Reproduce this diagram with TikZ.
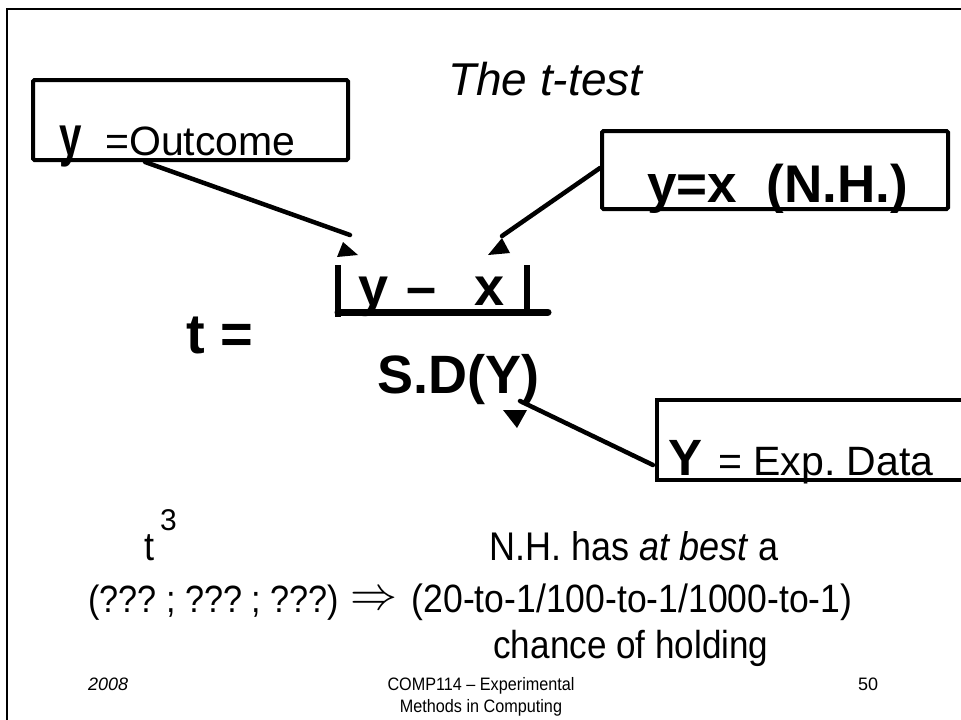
\documentclass[tikz,border=0pt]{standalone}
\usepackage{fontspec}
\setmainfont{Liberation Sans}
\usetikzlibrary{calc}
\newcommand\myfs[1]{\fontsize{#1}{#1}\selectfont}
\tikzset{
  txt/.style={inner sep=0pt, anchor=base west},
  txtc/.style={inner sep=0pt, anchor=base},
  box/.style={draw, line width=4pt, rounded corners=1.5pt, inner sep=0pt},
  conn/.style={line width=4.5pt, line cap=round},
  tri/.style={fill=black},
  frame/.style={line width=2.5pt},
  cond/.style={xscale=0.9}
}
\begin{document}
\frenchspacing
\begin{tikzpicture}[x=1pt,y=-1pt]
\useasboundingbox (0,0) rectangle (961,720);
% slide frame
\draw[frame] (7,720) -- (7,9) -- (961,9);
% title
\node[txt] (title) at (448,95) {\myfs{46}\itshape The t-test};
% outcome box
\node[box, minimum width=315pt, minimum height=80pt] (ob) at (190.5,120) {};
\node[txt, xscale=0.72] (oy) at (59,155) {\myfs{56}\bfseries y};
\node[txt] (ot) at (105,155) {\myfs{41}=Outcome};
% N.H. box
\node[box, minimum width=346pt, minimum height=78pt] (nb) at (775,170) {};
\node[txt] (nt) at (647,202) {\myfs{53}\bfseries y=x\ \ (N.H.)};
% Y box (open on the right)
\coordinate (ybtl) at (657,400);
\coordinate (ybbl) at (657,480);
\draw[line width=4pt] (961,400) -- (ybtl) -- (ybbl) -- (961,480);
\node[txt] (yY) at (668,475) {\myfs{51}\bfseries Y};
\node[txt] (yt) at (718,475) {\myfs{41}= Exp. Data};
% t =
\node[txt] (teq) at (186,353) {\myfs{56}\bfseries t =};
% numerator
\node[txt] (ny) at (358,305) {\myfs{54}\bfseries y};
\node[txt] (nd) at (406,305) {\myfs{54}\bfseries –};
\node[txt] (nx) at (474,305) {\myfs{54}\bfseries x};
\draw[line width=6pt] (338,265) -- (338,317);
\draw[line width=6pt] (527,265) -- (527,315);
\draw[line width=7pt, line cap=round] (338,312) -- (548,312);
% denominator
\node[txt] (sd) at (377,393) {\myfs{54}\bfseries S.D(Y)};
% connectors
\coordinate (c1s) at ($(ob.south west)+(114,0)$);
\coordinate (c1e) at (350,235);
\draw[conn] (c1s) -- (c1e);
\fill[tri] (343,242) -- (337,257) -- (358,255) -- cycle;
\coordinate (c2s) at ($(nb.west)+(0,-2)$);
\coordinate (c2e) at (502,236);
\draw[conn] (c2s) -- (c2e);
\fill[tri] (502,238) -- (488,255) -- (510,253) -- cycle;
\coordinate (c3s) at (653,465);
\coordinate (c3e) at (520,401);
\draw[conn] (c3s) -- (c3e);
\fill[tri] (503,410) -- (527,410) -- (517,428) -- cycle;
% bottom
\node[txt, cond] (bt) at (144,560) {\myfs{40}t};
\node[txt] (b3) at (160,530) {\myfs{30}3};
\node[txt, cond] (bq) at (88,612) {\myfs{38}(??? ; ??? ; ???)};
\node[inner sep=0pt] (arr) at (374,601) {\scalebox{4.7}{$\Rightarrow$}};
\node[txtc, cond] (r1) at (634,560) {\myfs{40}N.H. has \textit{at best} a};
\node[txtc, cond] (r2) at (632,612) {\myfs{39.5}(20-to-1/100-to-1/1000-to-1)};
\node[txtc, cond] (r3) at (631,658) {\myfs{39}chance of holding};
% footer
\node[txt] (f1) at (88,690) {\myfs{18}\itshape 2008};
\node[txtc, cond] (f2) at (481,690) {\myfs{18}COMP114 – Experimental};
\node[txtc, cond] (f3) at (481,712) {\myfs{18}Methods in Computing};
\node[txt] (f4) at (858,690) {\myfs{18}50};
\end{tikzpicture}
\end{document}
